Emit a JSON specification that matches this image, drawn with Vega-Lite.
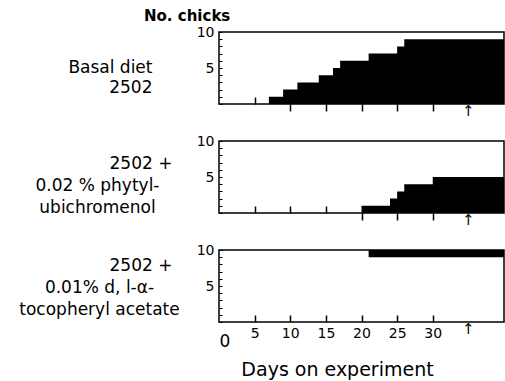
{
  "$schema": "https://vega.github.io/schema/vega-lite/v6.json",
  "padding": {"left": 18, "top": 8, "right": 2, "bottom": 2},
  "bounds": "flush",
  "spacing": 37,
  "config": {
    "font": "DejaVu Sans",
    "view": {"stroke": "black", "strokeWidth": 1.5},
    "axis": {"domain": false, "grid": false, "labelColor": "black", "tickColor": "black", "titleColor": "black", "titleFontWeight": "normal", "labelOverlap": false},
    "title": {"color": "black", "font": "DejaVu Sans"}
  },
  "datasets": {
    "basal": [
      {"day": 7, "n": 1}, {"day": 9, "n": 2}, {"day": 11, "n": 3}, {"day": 14, "n": 4},
      {"day": 16, "n": 5}, {"day": 17, "n": 6}, {"day": 21, "n": 7}, {"day": 25, "n": 8},
      {"day": 26, "n": 9}, {"day": 40, "n": 9}
    ],
    "phytyl": [
      {"day": 20, "n": 1}, {"day": 24, "n": 2}, {"day": 25, "n": 3}, {"day": 26, "n": 4},
      {"day": 30, "n": 5}, {"day": 40, "n": 5}
    ],
    "tocopheryl": [
      {"day": 21, "from": 9, "to": 10}, {"day": 40, "from": 9, "to": 10}
    ],
    "marker": [{"day": 35}]
  },
  "vconcat": [
    {
      "width": 285, "height": 72,
      "title": {"text": "No. chicks", "anchor": "start", "frame": "group", "align": "left", "dx": -75, "baseline": "alphabetic", "offset": -11, "fontSize": 15, "fontWeight": "bold"},
      "encoding": {
        "x": {"field": "day", "type": "quantitative", "scale": {"domain": [0, 40], "nice": false},
          "axis": {"values": [5, 10, 15, 20, 25, 30], "tickCount": 20, "labels": false, "title": null, "tickWidth": 1.5,
            "tickSize": {"condition": {"test": "datum.value == 5", "value": -7}, "value": 7}}}
      },
      "layer": [
        {"data": {"name": "basal"},
         "mark": {"type": "area", "interpolate": "step-after", "color": "black", "opacity": 1},
         "encoding": {
           "y": {"field": "n", "type": "quantitative", "scale": {"domain": [0, 10], "nice": false},
             "axis": {"values": [0, 1, 2, 3, 4, 5, 6, 7, 8, 9, 10], "tickCount": 20, "format": "d", "tickSize": -3, "labelPadding": 8, "labelFontSize": 14,
               "labelOverlap": false,
               "labelExpr": "datum.value == 5 || datum.value == 10 ? datum.label : ''",
               "title": ["Basal diet", "2502"], "titleAngle": 0, "titleAlign": "right", "titleBaseline": "middle",
               "titleX": -67, "titleY": 35, "titleFontSize": 17, "titleLineHeight": 20}}
         }},
        {"data": {"name": "marker"},
         "mark": {"type": "text", "text": "↑", "baseline": "top", "fontSize": 15, "color": "black"},
         "encoding": {"y": {"datum": 0, "type": "quantitative"}}}
      ]
    },
    {
      "width": 285, "height": 72,
      "title": {"text": "2502 +", "anchor": "start", "frame": "group", "align": "center", "dx": -78, "baseline": "middle", "offset": 0, "dy": 47, "fontSize": 17, "fontWeight": "normal"},
      "encoding": {
        "x": {"field": "day", "type": "quantitative", "scale": {"domain": [0, 40], "nice": false},
          "axis": {"values": [5, 10, 15, 20, 25, 30], "tickCount": 20, "labels": false, "title": null, "tickWidth": 1.5,
            "tickSize": {"condition": {"test": "datum.value <= 15", "value": -7}, "value": 7}}}
      },
      "layer": [
        {"data": {"name": "phytyl"},
         "mark": {"type": "area", "interpolate": "step-after", "color": "black", "opacity": 1},
         "encoding": {
           "y": {"field": "n", "type": "quantitative", "scale": {"domain": [0, 10], "nice": false},
             "axis": {"values": [0, 1, 2, 3, 4, 5, 6, 7, 8, 9, 10], "tickCount": 20, "format": "d", "tickSize": -3, "labelPadding": 8, "labelFontSize": 14,
               "labelOverlap": false,
               "labelExpr": "datum.value == 5 || datum.value == 10 ? datum.label : ''",
               "title": ["0.02 % phytyl-", "ubichromenol"], "titleAngle": 0, "titleAlign": "center", "titleBaseline": "middle",
               "titleX": -122, "titleY": 44, "titleFontSize": 17, "titleLineHeight": 22}}
         }},
        {"data": {"name": "marker"},
         "mark": {"type": "text", "text": "↑", "baseline": "top", "fontSize": 15, "color": "black"},
         "encoding": {"y": {"datum": 0, "type": "quantitative"}}}
      ]
    },
    {
      "width": 285, "height": 72,
      "title": {"text": "2502 +", "anchor": "start", "frame": "group", "align": "center", "dx": -78, "baseline": "middle", "offset": 0, "dy": 40, "fontSize": 17, "fontWeight": "normal"},
      "encoding": {
        "x": {"field": "day", "type": "quantitative", "scale": {"domain": [0, 40], "nice": false},
          "axis": {"values": [0, 5, 10, 15, 20, 25, 30], "tickCount": 20, "format": "d", "tickWidth": 1.5, "labelPadding": 11, "labelOverlap": false,
            "tickSize": {"condition": {"test": "datum.value == 0", "value": 0}, "value": -7},
            "labelFontSize": {"condition": {"test": "datum.value == 0", "value": 17}, "value": 14},
            "title": "Days on experiment", "titleFontSize": 19, "titleX": 118, "titleY": 53,
            "titleAlign": "center", "titleBaseline": "alphabetic"}}
      },
      "layer": [
        {"data": {"name": "tocopheryl"},
         "mark": {"type": "area", "interpolate": "step-after", "color": "black", "opacity": 1},
         "encoding": {
           "y": {"field": "to", "type": "quantitative", "scale": {"domain": [0, 10], "nice": false},
             "axis": {"values": [0, 1, 2, 3, 4, 5, 6, 7, 8, 9, 10], "tickCount": 20, "format": "d", "tickSize": -3, "labelPadding": 8, "labelFontSize": 14,
               "labelOverlap": false,
               "labelExpr": "datum.value == 5 || datum.value == 10 ? datum.label : ''",
               "title": ["0.01% d, l-α-", "tocopheryl acetate"], "titleAngle": 0, "titleAlign": "center", "titleBaseline": "middle",
               "titleX": -120, "titleY": 37, "titleFontSize": 17, "titleLineHeight": 22}},
           "y2": {"field": "from"}
         }},
        {"data": {"name": "marker"},
         "mark": {"type": "text", "text": "↑", "baseline": "top", "fontSize": 15, "color": "black"},
         "encoding": {"y": {"datum": 0, "type": "quantitative"}}}
      ]
    }
  ]
}
